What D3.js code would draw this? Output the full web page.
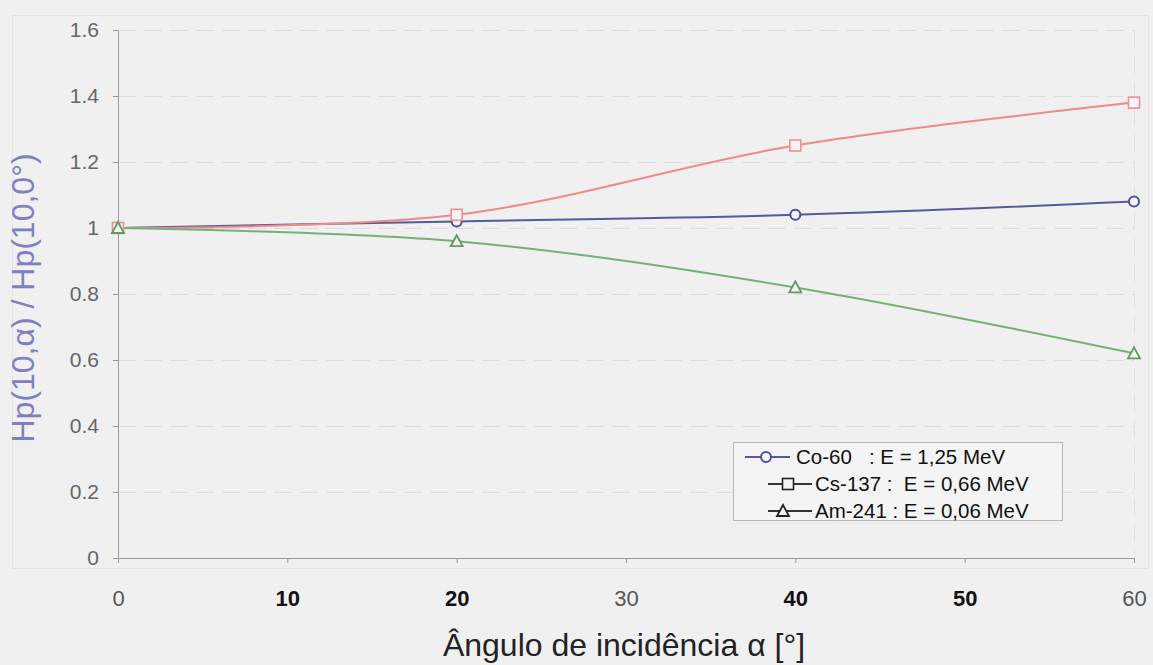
<!DOCTYPE html>
<html>
<head>
<meta charset="utf-8">
<script src="https://cdn.jsdelivr.net/npm/d3@7"></script>
<style>
  html, body { margin: 0; padding: 0; background: #f0f0f0; }
  svg { display: block; font-family: "Liberation Sans", Arial, sans-serif; }
</style>
</head>
<body>
<svg id="chart" width="1153" height="665"></svg>
<script>
// data
const angles   = [0, 20, 40, 60];
const co60     = [1.00, 1.02, 1.04, 1.08];
const cs137    = [1.00, 1.04, 1.25, 1.38];
const am241    = [1.00, 0.96, 0.82, 0.62];
const xTicks   = [0, 10, 20, 30, 40, 50, 60];
const xBold    = [10, 20, 40, 50];
const yTicks   = [0, 0.2, 0.4, 0.6, 0.8, 1, 1.2, 1.4, 1.6];
const seriesNames = ['Co-60   : E = 1,25 MeV', 'Cs-137 :  E = 0,66 MeV', 'Am-241 : E = 0,06 MeV'];

const series = [
    { name: seriesNames[0], values: co60,  color: '#555a9c', mark: '#4a4fa8', shape: 'circle' },
    { name: seriesNames[1], values: cs137, color: '#f08a8a', mark: '#ef8f8f', shape: 'square' },
    { name: seriesNames[2], values: am241, color: '#74b274', mark: '#5f9a5f', shape: 'triangle' }
];

const svg = d3.select('#chart');
const m = { left: 118, right: 19, top: 30, bottom: 107 };
const W = 1153 - m.left - m.right;
const H = 665 - m.top - m.bottom;
const g = svg.append('g').attr('transform', `translate(${m.left},${m.top})`);

const x = d3.scaleLinear().domain([0, 60]).range([0, W]);
const y = d3.scaleLinear().domain([0, 1.6]).range([H, 0]);

// faint outer frame
svg.append('rect')
    .attr('x', 12.5).attr('y', 15.5).attr('width', 1136).attr('height', 553)
    .attr('fill', 'none').attr('stroke', '#e4e4e4');

// dashed grid
g.selectAll('.gy')
    .data(yTicks.filter(d => d > 0))
    .join('line')
    .attr('class', 'gy')
    .attr('x1', 0).attr('x2', W)
    .attr('y1', d => y(d) + 0.5).attr('y2', d => y(d) + 0.5)
    .attr('stroke', '#dcdcdc')
    .attr('stroke-dasharray', '18,8');

g.append('line')
    .attr('x1', W + 0.5).attr('x2', W + 0.5).attr('y1', 0).attr('y2', H)
    .attr('stroke', '#e2e2e2').attr('stroke-dasharray', '18,8');

// axes
const ax = g.append('g').attr('transform', `translate(0,${H})`)
    .call(d3.axisBottom(x).tickValues(xTicks).tickSize(5).tickPadding(27));
ax.select('.domain').attr('stroke', '#9a9a9a');
ax.selectAll('.tick line').attr('stroke', '#9a9a9a');
ax.selectAll('.tick text')
    .attr('font-size', 22)
    .attr('font-weight', d => xBold.includes(d) ? 'bold' : 'normal')
    .attr('fill', d => xBold.includes(d) ? '#111' : '#555');

const ay = g.append('g')
    .call(d3.axisLeft(y).tickValues(yTicks).tickSize(5).tickPadding(14).tickFormat(d3.format('~g')));
ay.select('.domain').attr('stroke', '#9a9a9a');
ay.selectAll('.tick line').attr('stroke', '#9a9a9a');
ay.selectAll('.tick text').attr('font-size', 21).attr('fill', '#666');

// axis titles
svg.append('text')
    .attr('x', 624).attr('y', 656)
    .attr('text-anchor', 'middle')
    .attr('font-size', 32)
    .attr('fill', '#222')
    .text('Ângulo de incidência α [°]');

svg.append('text')
    .attr('transform', 'translate(34,298) rotate(-90)')
    .attr('text-anchor', 'middle')
    .attr('font-size', 32)
    .attr('fill', '#7f80c4')
    .text('Hp(10,α) / Hp(10,0°)');

// lines
const line = d3.line()
    .x((d, i) => x(angles[i]))
    .y(d => y(d))
    .curve(d3.curveCatmullRom.alpha(0.5));

g.selectAll('.ln')
    .data(series)
    .join('path')
    .attr('class', 'ln')
    .attr('fill', 'none')
    .attr('stroke', d => d.color)
    .attr('stroke-width', 2)
    .attr('d', d => line(d.values));

function drawMark(sel, shape, color, cx, cy) {
    if (shape === 'circle') {
        sel.append('circle').attr('cx', cx).attr('cy', cy).attr('r', 5)
            .attr('fill', '#f4f4f4').attr('stroke', color).attr('stroke-width', 2);
    } else if (shape === 'square') {
        sel.append('rect').attr('x', cx - 5.5).attr('y', cy - 5.5).attr('width', 11).attr('height', 11)
            .attr('fill', '#f4f4f4').attr('stroke', color).attr('stroke-width', 1.6);
    } else {
        sel.append('path')
            .attr('d', `M${cx},${cy - 6}L${cx + 6},${cy + 5}L${cx - 6},${cy + 5}Z`)
            .attr('fill', '#f4f4f4').attr('stroke', color).attr('stroke-width', 1.8);
    }
}

series.forEach(s => {
    const mg = g.append('g');
    s.values.forEach((v, i) => drawMark(mg, s.shape, s.mark, x(angles[i]), y(v)));
});

// legend
const lg = svg.append('g').attr('transform', 'translate(733,442)');
lg.append('rect')
    .attr('x', 0.5).attr('y', 0.5).attr('width', 329).attr('height', 78)
    .attr('fill', '#f4f4f4').attr('stroke', '#b8b8b8');

// per-row sample line start/end, marker x and text x (legend coords)
const rowLayout = [
    { x1: 12, x2: 57, mx: 33, tx: 63 },
    { x1: 35, x2: 79, mx: 55, tx: 82 },
    { x1: 35, x2: 79, mx: 50, tx: 82 }
];
series.forEach((s, i) => {
    const yy = 15 + i * 27;
    const L = rowLayout[i];
    const row = lg.append('g');
    row.append('line')
        .attr('x1', L.x1).attr('x2', L.x2).attr('y1', yy).attr('y2', yy)
        .attr('stroke', i === 0 ? s.color : '#333').attr('stroke-width', 2);
    drawMark(row, s.shape, i === 0 ? s.mark : '#222', L.mx, yy);
    row.append('text')
        .attr('x', L.tx).attr('y', yy + 7)
        .attr('font-size', 20.5)
        .attr('fill', '#111')
        .style('white-space', 'pre')
        .text(s.name);
});
</script>
</body>
</html>
